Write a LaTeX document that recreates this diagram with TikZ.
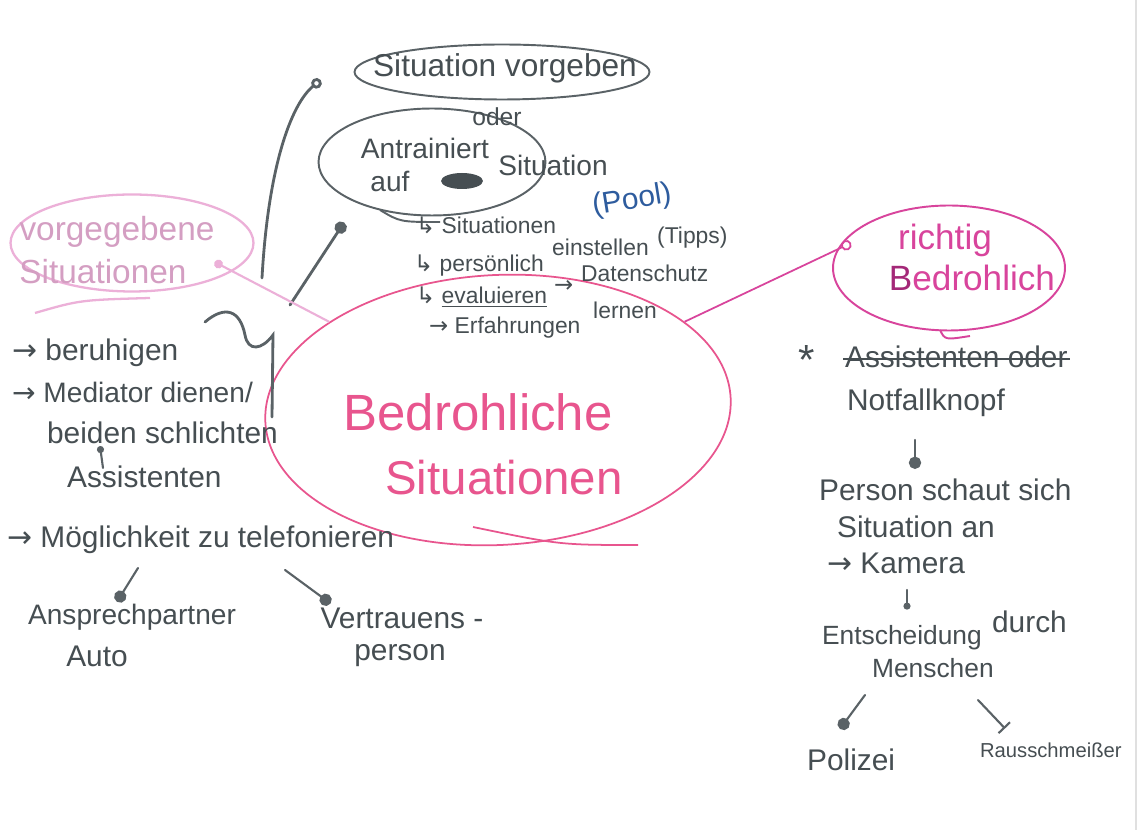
\documentclass[tikz,border=0pt]{standalone}
\usepackage{fontspec}
\setmainfont{Liberation Sans}
\newfontfamily\symfont{DejaVu Sans}
\usepackage{tikz}
\usetikzlibrary{arrows.meta,shapes.geometric,calc}

\definecolor{ink}{HTML}{464E52}
\definecolor{linegrey}{HTML}{5A6266}
\definecolor{pinkmain}{HTML}{E8558E}
\definecolor{pinklight}{HTML}{ECB0D8}
\definecolor{rpink}{HTML}{D8449C}
\definecolor{rpinkdark}{HTML}{A42878}
\definecolor{penblue}{HTML}{2E5C9E}

\newcommand{\fsz}[1]{\fontsize{#1}{#1}\selectfont}
\newcommand{\arr}{{\symfont →}}
\newcommand{\hookarr}{{\symfont ↳}}

\begin{document}
\begin{tikzpicture}
	[x=0.02cm,y=-0.02cm,every node/.style={inner sep=1pt,text=ink,font=\fsz{17}}]
	\tikzstyle{oval} = [ellipse,inner sep=0pt];
	\tikzstyle{pen} = [linegrey,line width=1.6pt,line cap=round];
	\tikzstyle{thinpen} = [linegrey,line width=1.2pt,line cap=round];
	\tikzstyle{blob} = [-{Circle[length=7pt,width=7pt]}];
	\tikzstyle{ring} = [-{Circle[open,length=6pt,width=6pt]}];
	\tikzstyle{sub} = [anchor=base west,inner sep=0.5pt,font=\fsz{13}];

	\useasboundingbox (0,0) rectangle (1144,830);
	\fill[white] (0,0) rectangle (1144,830);
	\draw[black!12,line width=1pt] (1136,0) -- (1136,830);

	% ovals
	\node[oval,draw=linegrey,line width=1.1pt,minimum width=5.9cm,minimum height=1.1cm] (e1) at (502,72) {};
	\node[oval,draw=linegrey,line width=1.1pt,minimum width=4.54cm,minimum height=2.14cm] (e2) at (432,162) {};
	\node[oval,draw=pinkmain,line width=1pt,minimum width=9.32cm,minimum height=5.4cm,rotate=3] (e3) at (498,410) {};
	\node[oval,draw=pinklight,line width=1.3pt,minimum width=4.86cm,minimum height=1.94cm] (e4) at (132,243) {};
	\node[oval,draw=rpink,line width=1.1pt,minimum width=4.64cm,minimum height=2.5cm] (e5) at (949,268) {};

	\draw[pinkmain,line width=1pt] (473,527) .. controls (560,545) .. (638,545);
	\draw[pinklight,line width=1.3pt] (35,313) .. controls (80,300) .. (150,298);
	\draw[linegrey,line width=1.1pt] (380,210) .. controls (400,222) .. (440,222);
	\draw[rpink,line width=1.1pt] (940,330) .. controls (945,340) .. (970,336);

	% top
	\node[font=\fsz{18}] (t1) at (505,68) {Situation vorgeben};
	\node[font=\fsz{14}] (t2) at (497,117) {oder};
	\node[font=\fsz{16}] (t3) at (425,148) {Antrainiert};
	\node[font=\fsz{16}] (t4) at (390,181) {auf};
	\node[font=\fsz{16}] (t5) at (553,165) {Situation};
	\fill[ink] (462,181) ellipse (0.42cm and 0.16cm);
	\node[text=penblue,rotate=9] (pool) at (632,201) {(Pool)};

	\node[sub] (l1) at (415,234) {\hookarr\ Situationen};
	\node[sub] (l2a) at (413,272) {\hookarr\ persönlich};
	\node[sub] (l2b) at (551,256) {einstellen};
	\node[sub] (l2c) at (656,244) {(Tipps)};
	\node[sub] (l3a) at (415,304) {\hookarr\ \underline{evaluieren}};
	\node[sub] (l3b) at (553,293) {\arr};
	\node[sub] (l3c) at (580,282) {Datenschutz};
	\node[sub] (l4a) at (428,334) {\arr\ Erfahrungen};
	\node[sub] (l4b) at (592,319) {lernen};

	% centre
	\node[text=pinkmain,font=\fsz{29}] (c1) at (478,412) {Bedrohliche};
	\node[text=pinkmain,font=\fsz{27}] (c2) at (504,478) {Situationen};

	% left
	\node[text=pinklight!90!black,font=\fsz{19}] (v1) at (117,232) {vorgegebene};
	\node[text=pinklight!90!black,font=\fsz{19}] (v2) at (103,272) {Situationen};

	\node[anchor=west] (b1) at (10,353) {\arr\ beruhigen};
	\node[anchor=west,font=\fsz{16}] (b2) at (10,392) {\arr\ Mediator dienen/};
	\node[anchor=west] (b3) at (45,433) {beiden schlichten};
	\node[anchor=west] (b4) at (65,477) {Assistenten};
	\node[anchor=west] (b5) at (5,540) {\arr\ Möglichkeit zu telefonieren};

	\node[font=\fsz{16}] (m1) at (132,617) {Ansprechpartner};
	\node (m2) at (97,656) {Auto};
	\node (m3) at (402,618) {Vertrauens -};
	\node (m4) at (400,656) {person};

	% right
	\node[text=rpink,font=\fsz{20}] (q1) at (945,240) {richtig};
	\node[text=rpink,font=\fsz{20}] (q2) at (972,278) {{\color{rpinkdark}B}edrohlich};

	\node[font=\fsz{24}] (st) at (807,360) {*};
	\node[anchor=west] (r0) at (843,357) {Assistenten oder};
	\draw[ink,line width=1.3pt] ($(r0.west)+(0,2)$) -- ($(r0.east)+(0,2)$);
	\node[anchor=west] (r1) at (845,403) {Notfallknopf};
	\node[anchor=west] (r2) at (817,490) {Person schaut sich};
	\node[anchor=west] (r3) at (835,527) {Situation an};
	\node[anchor=west] (r4) at (825,563) {\arr\ Kamera};
	\node[anchor=west,font=\fsz{15}] (r5) at (820,638) {Entscheidung};
	\node[anchor=west] (r6) at (990,622) {durch};
	\node[anchor=west,font=\fsz{15}] (r7) at (870,668) {Menschen};
	\node[anchor=west] (r8) at (805,760) {Polizei};
	\node[anchor=west,font=\fsz{11.5}] (r9) at (978,750) {Rausschmeißer};

	% connectors
	\coordinate (s1) at (262,278);
	\draw[pen,ring] (s1) .. controls (268,170) and (290,105) .. ($(e1.west)+(-33,8)$);
	\coordinate (s2) at (290,305);
	\draw[pen,blob] (s2) -- ($(e2.south west)+(-7,22)$);
	\draw[pinklight,line width=1.2pt,-{Circle[length=5pt,width=5pt]}] (e3) -- ($(e4.east)+(-40,19)$);
	\draw[rpink,line width=1pt,ring] (e3) -- ($(e5.west)+(19,-25)$);
	\draw[pen] (205,322) .. controls (225,305) and (240,310) .. (245,335) .. controls (248,352) and (262,350) .. (273,335) -- (272,417);

	\coordinate (d1) at (138,568);
	\draw[thinpen,blob] (d1) -- ($(m1.north)+(-15,0)$);
	\coordinate (d2) at (285,570);
	\draw[thinpen,blob] (d2) -- ($(m3.north west)+(12,-2)$);
	\coordinate (d3) at (103,468);
	\draw[thinpen,-{Circle[length=4pt,width=4pt]}] (d3) -- ($(b3.south west)+(55,0)$);
	\coordinate (d4) at (915,440);
	\draw[thinpen,blob] (d4) -- ($(r2.north west)+(98,-8)$);
	\coordinate (d5) at (907,590);
	\draw[thinpen,-{Circle[length=4pt,width=4pt]}] (d5) -- ($(r5.north west)+(87,-14)$);
	\coordinate (d6) at (865,695);
	\draw[thinpen,blob] (d6) -- ($(r8.north west)+(35,-18)$);
	\coordinate (d7) at (978,700);
	\draw[thinpen,-{Bar[width=9pt]}] (d7) -- ($(r9.north west)+(27,-12)$);
\end{tikzpicture}
\end{document}
